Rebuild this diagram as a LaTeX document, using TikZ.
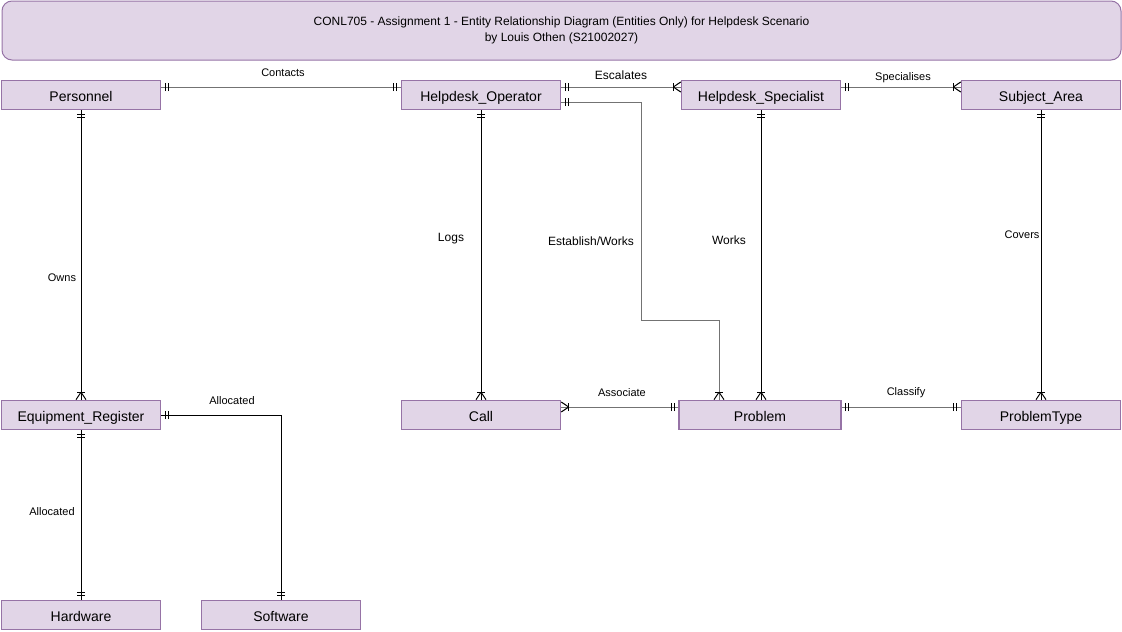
\documentclass[tikz,border=0pt]{standalone}
\usepackage{fontspec}
\setmainfont{Liberation Sans}
\usetikzlibrary{decorations.markings}
\definecolor{efill}{HTML}{E1D5E7}
\definecolor{edraw}{HTML}{9673A6}
\tikzset{
  x=0.75pt, y=-0.75pt,
  entity/.style={draw=edraw, fill=efill, line width=1.125pt, minimum width=119.25pt, minimum height=21.9pt, inner sep=0pt, text height=9.6pt, text depth=0pt, font=\fontsize{10.5pt}{11pt}\selectfont},
  conn/.style={draw=black, line width=0.75pt},
  gconn/.style={draw=black!55, line width=0.75pt},
  tip/.style={draw=black, line width=0.75pt},
  lbl/.style={font=\fontsize{8.25pt}{10pt}\selectfont, inner sep=0pt},
  lblb/.style={font=\fontsize{9pt}{10pt}\selectfont, inner sep=0pt},
  onestart/.style={postaction={decorate, decoration={markings,
     mark=at position 3pt with {\draw[tip] (0pt,-3pt)--(0pt,3pt);},
     mark=at position 5.25pt with {\draw[tip] (0pt,-3pt)--(0pt,3pt);}}}},
  oneend/.style={postaction={decorate, decoration={markings,
     mark=at position -3pt with {\draw[tip] (0pt,-3pt)--(0pt,3pt);},
     mark=at position -5.25pt with {\draw[tip] (0pt,-3pt)--(0pt,3pt);}}}},
  manyend/.style={postaction={decorate, decoration={markings,
     mark=at position -5.6pt with {\draw[tip] (0pt,-3pt)--(0pt,3pt);
        \draw[tip] (0pt,0pt)--(5.6pt,3.75pt) (0pt,0pt)--(5.6pt,-3.75pt);}}}},
  manystart/.style={postaction={decorate, decoration={markings,
     mark=at position 5.6pt with {\draw[tip] (0pt,-3pt)--(0pt,3pt);
        \draw[tip] (0pt,0pt)--(-5.6pt,3.75pt) (0pt,0pt)--(-5.6pt,-3.75pt);}}}},
}
\begin{document}
\begin{tikzpicture}
\useasboundingbox (0,0) rectangle (1122,632);
% title
\node[draw=edraw, fill=efill, line width=0.75pt, rounded corners=7.5pt, minimum width=839.25pt, minimum height=44.25pt, inner sep=0pt, align=center, font=\fontsize{9pt}{12pt}\selectfont] (title) at (561.5,30.5)
  {CONL705 - Assignment 1 - Entity Relationship Diagram (Entities Only) for Helpdesk Scenario\\by Louis Othen (S21002027)};
% entities
\node[entity] (per) at (81,95) {Personnel};
\node[entity] (ope) at (481,95) {Helpdesk\_Operator};
\node[entity] (spe) at (761,95) {Helpdesk\_Specialist};
\node[entity] (sub) at (1041,95) {Subject\_Area};
\node[entity] (equ) at (81,415) {Equipment\_Register};
\node[entity] (cal) at (481,415) {Call};
\node[entity, minimum width=121.5pt] (pro) at (760,415) {Problem};
\node[entity] (pty) at (1041,415) {ProblemType};
\node[entity] (har) at (81,615) {Hardware};
\node[entity] (sof) at (281,615) {Software};
% connectors
\draw[gconn, onestart, oneend] ([yshift=6pt]per.east) -- ([yshift=6pt]ope.west);
\draw[gconn, onestart, manyend] ([yshift=6pt]ope.east) -- ([yshift=6pt]spe.west);
\draw[gconn, onestart, manyend] ([yshift=6pt]spe.east) -- ([yshift=6pt]sub.west);
\draw[conn, onestart, manyend] (per.south) -- (equ.north);
\draw[conn, onestart, oneend] (equ.south) -- (har.north);
\draw[conn, onestart, oneend] (equ.east) -| (sof.north);
\draw[conn, onestart, manyend] (ope.south) -- (cal.north);
\coordinate (bend) at (641,320);
\draw[gconn, onestart, manyend] ([yshift=-5.25pt]ope.east) -| (bend) -| ([xshift=-30.75pt]pro.north);
\draw[conn, onestart, manyend] (spe.south) -- (spe.south |- pro.north);
\draw[conn, onestart, manyend] (sub.south) -- (pty.north);
\draw[gconn, manystart, oneend] ([yshift=6pt]cal.east) -- ([yshift=6pt]pro.west);
\draw[gconn, onestart, oneend] ([yshift=6pt]pro.east) -- ([yshift=6pt]pty.west);
% labels
\node[lbl] (l1) at (283,73) {Contacts};
\node[lblb] (l2) at (621,75) {Escalates};
\node[lbl] (l3) at (903,78) {Specialises};
\node[lbl] (l4) at (62,278) {Owns};
\node[lbl] (l5) at (52,512) {Allocated};
\node[lbl] (l6) at (232,401) {Allocated};
\node[lblb] (l7) at (451,239) {Logs};
\node[lblb] (l8) at (591,241) {Establish/Works};
\node[lblb] (l9) at (729,240) {Works};
\node[lbl] (l10) at (1022,235) {Covers};
\node[lbl] (l11) at (622,393) {Associate};
\node[lbl] (l12) at (906,393) {Classify};
\end{tikzpicture}
\end{document}
